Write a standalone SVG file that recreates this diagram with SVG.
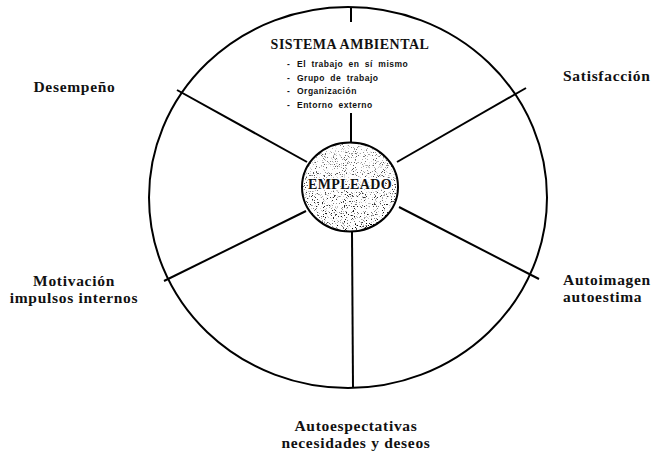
<svg xmlns="http://www.w3.org/2000/svg" width="660" height="455" viewBox="0 0 660 455">
  <style>
    .line { fill: none; stroke: #000; stroke-width: 2; }
    .lbl { font-family: "Liberation Serif", "DejaVu Serif", serif; font-weight: bold; font-size: 15.5px; letter-spacing: 0.7px; fill: #111; }
    .title { font-family: "Liberation Serif", "DejaVu Serif", serif; font-weight: bold; font-size: 14px; letter-spacing: 0.5px; fill: #111; }
    .item { font-family: "Liberation Sans", "DejaVu Sans", sans-serif; font-weight: bold; font-size: 8.5px; letter-spacing: 0.5px; word-spacing: 2.5px; fill: #111; }
    .center { font-family: "Liberation Serif", "DejaVu Serif", serif; font-weight: bold; font-size: 14px; letter-spacing: 0.4px; fill: #111; stroke: #fff; stroke-width: 2.5px; paint-order: stroke; stroke-linejoin: round; }
  </style>
  <defs>
    <filter id="grain" x="0" y="0" width="100%" height="100%">
      <feTurbulence type="fractalNoise" baseFrequency="0.9" numOctaves="2" seed="7" result="n"/>
      <feColorMatrix in="n" type="matrix" values="0 0 0 0 0  0 0 0 0 0  0 0 0 0 0  8 0 0 0 -4.75" result="specks"/>
      <feComposite in="specks" in2="SourceGraphic" operator="in"/>
    </filter>
    <linearGradient id="dens" x1="0" y1="0" x2="0" y2="1">
      <stop offset="0" stop-color="#000" stop-opacity="0.55"/>
      <stop offset="0.6" stop-color="#000" stop-opacity="0.8"/>
      <stop offset="1" stop-color="#000" stop-opacity="1"/>
    </linearGradient>
  </defs>
  <rect width="660" height="455" fill="#fff"/>

  <g id="wheel">
    <ellipse class="line" cx="348" cy="197.5" rx="199" ry="190.5"/>
  </g>

  <g id="connectors">
    <line class="line" x1="351" y1="7" x2="351" y2="22"/>
    <line class="line" x1="351" y1="113" x2="351" y2="142"/>
    <line class="line" x1="177" y1="90" x2="307" y2="162"/>
    <line class="line" x1="526" y1="88" x2="397" y2="162"/>
    <line class="line" x1="164" y1="281" x2="306" y2="211"/>
    <line class="line" x1="539" y1="279" x2="399" y2="207"/>
    <line class="line" x1="352" y1="232" x2="353" y2="388"/>
  </g>

  <g id="empleado">
    <ellipse cx="350" cy="187" rx="48" ry="44.5" fill="url(#dens)" filter="url(#grain)"/>
    <ellipse class="line" cx="350" cy="187" rx="48" ry="44.5"/>
    <text class="center" x="350" y="189" text-anchor="middle">EMPLEADO</text>
  </g>

  <g id="sistema-ambiental">
    <text class="title" x="350" y="49" text-anchor="middle">SISTEMA AMBIENTAL</text>
    <text class="item" x="287" y="67">-</text>
    <text class="item" x="297" y="67">El trabajo en sí mismo</text>
    <text class="item" x="287" y="81">-</text>
    <text class="item" x="297" y="81">Grupo de trabajo</text>
    <text class="item" x="287" y="94">-</text>
    <text class="item" x="297" y="94">Organización</text>
    <text class="item" x="287" y="108">-</text>
    <text class="item" x="297" y="108">Entorno externo</text>
  </g>

  <g id="desempeno">
    <text class="lbl" x="74.5" y="92" text-anchor="middle">Desempeño</text>
  </g>

  <g id="satisfaccion">
    <text class="lbl" x="563" y="81">Satisfacción</text>
  </g>

  <g id="motivacion">
    <text class="lbl" x="74" y="286" text-anchor="middle">Motivación</text>
    <text class="lbl" x="74" y="303" text-anchor="middle">impulsos internos</text>
  </g>

  <g id="autoimagen">
    <text class="lbl" x="563" y="285">Autoimagen</text>
    <text class="lbl" x="563" y="302">autoestima</text>
  </g>

  <g id="autoespectativas">
    <text class="lbl" x="356" y="431" text-anchor="middle">Autoespectativas</text>
    <text class="lbl" x="356" y="448" text-anchor="middle">necesidades y deseos</text>
  </g>
</svg>
